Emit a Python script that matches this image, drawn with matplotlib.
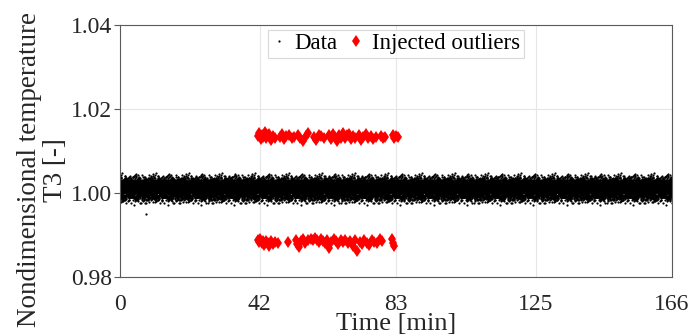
import numpy as np
import matplotlib.pyplot as plt

plt.rcParams['font.family'] = ['Liberation Serif', 'DejaVu Serif']

# measured signal: 0.5 s sampling over 166 min, level ~1.001
t_end = 166.0
n_samples = 19920
base_level = 1.001
# two noise sequences (units of 1e-4): broad scatter + fine jitter
noise_a = [3, -8, 12, -15, 6, 21, -4, 0, -19, 9, 14, -11, 2, 27, -7, -22, 5, 17, -1, -13,
           10, -26, 8, 19, -5, -16, 24, 1, -9, 13, -20, 7, 33, -3, -12, 16, -24, 4, 11, -6,
           -17, 22, -2, 15, -28, 9, 3, -14, 20, -10, 6, 25, -21, 0, 12, -8, 18, -31, 7, -4,
           14, -18, 2, 28, -11, -6, 23, -15, 9, 1, -25, 17, -3, 11, -19, 26, -7, 4, 13, -12,
           -1, 19, -23, 8, 15, -9, 0, 36, -16, 5, -27, 10, 21, -5, -13, 3, 16, -20, 12, -2,
           7, -10, 24, -29, 1, 18, -7, 13, -15, 6, 29, -22, -4, 10, -11, 20, 2, -18, 14, -8,
           -24, 9, 4, -13, 22, -6, 17, -1, -19, 11, 31, -26, 5, 8, -14, 15, -3, 26, -9, 0,
           12, -21, 19, -5, 3, -17, 23, -12, 7, 16, -30, 1, 10, -7, 25, -16, 6, -2, 18, -23,
           -10, 13, -4, 34, -20, 8, 2, -15, 21, -8, 14, -27, 9, -1, 17, -11, 4, 27, -18, 11,
           -6, 20, -14, 3, -33, 15, 7, -9, 24, -3, 0, -22, 12, 19, -12, 5, -17, 22, -5, 10,
           -25, 6, 16, -8, 28, -19, 1, 13, -2, -13, 18, -10, 9, 4, -21, 24, -15, 37, -7, 11,
           -3, 17, -20, 8, 2, -11, 14, -29, 21, -6, 10, -16, 5, 30, -9, 1, -18, 12, -4, 23]
noise_b = [4, -7, 11, -2, 6, -13, 0, 9, -5, 15, -10, 3, -1, 8, -16, 5, 12, -4, -9, 2,
           18, -6, 1, -12, 7, 10, -3, -20, 4, 13, -8, 0, 6, -14, 9, 22, -2, -7, 11, -5,
           3, -11, 14, -1, -17, 8, 5, -4, 30, -9, 2, 12, -13, 6, -3, 16, -7, 1, -24, 10,
           -6, 4, 9, -15, 0, 19, -2, -10, 7, 3, -8, 13, -5, 11, -1, -18, 6, 2, 14, -12,
           8, -3, -21, 5, 12, -7, 1, 17, -11, 4, -14, 0, 9, -6, 26, -4, 10, -9, 3, -16,
           7, 15, -2, -8, 11, -13, 5, 0, -19, 13, -5, 2, 8, -10, 20, -3, -34, 6, 12, -7,
           1, -12, 9, 4, -6, 16, -15, 3, 10, -1, -9, 23, -4, 7, -17, 2, 13, -8, 5, -11,
           -2, 18, -14, 6, 0, 11, -7, -22, 9, 3, 14, -5, -10, 1, 8, -13, 28, -3, 4, -16,
           12, -6, 2, 10, -20, 5, -1, 15, -9, 7, -12, 0, 19, -4, 6, -15, 3, 11, -8, 36,
           -5, 9, -11, 1, 13, -7, 4, -18, 8, -2, 16, -10, 2, -14, 10, -3, 21, -6, 5, -27]
# stray low sample near the start
stray_t = [7.9]
stray_v = [0.9950]

# injected outliers, upper group
up_t = [41.5, 41.9, 42.3, 42.7, 43.1, 43.5, 43.9, 44.4, 44.9, 45.4, 46.0, 46.7,
        48.2, 48.7, 49.3, 50.0, 50.8, 51.6, 52.4,
        53.5, 54.2, 55.0, 55.8, 56.6,
        58.2, 58.9, 59.7, 60.5, 61.4,
        62.8, 63.4, 64.0, 64.6, 65.2, 65.8, 66.4, 67.0, 67.6, 68.2, 68.8, 69.4, 70.1, 70.8,
        71.8, 72.5, 73.2, 74.0, 74.7, 75.4, 76.2, 77.0,
        78.4, 79.1, 79.8,
        82.0, 82.5, 83.0, 83.5]
up_v = [1.0136, 1.0142, 1.0129, 1.0138, 1.0133, 1.0145, 1.0131, 1.0137, 1.0140, 1.0127,
        1.0135, 1.0132,
        1.0134, 1.0141, 1.0128, 1.0136, 1.0139, 1.0130, 1.0134,
        1.0139, 1.0131, 1.0124, 1.0136, 1.0142,
        1.0133, 1.0127, 1.0138, 1.0135, 1.0130,
        1.0137, 1.0128, 1.0141, 1.0134, 1.0125, 1.0139, 1.0132, 1.0143, 1.0130, 1.0137,
        1.0141, 1.0129, 1.0135, 1.0131,
        1.0138, 1.0126, 1.0134, 1.0140, 1.0131, 1.0136, 1.0129, 1.0134,
        1.0136, 1.0130, 1.0134,
        1.0137, 1.0131, 1.0135, 1.0133]

# injected outliers, lower group
lo_t = [41.4, 41.8, 42.2, 42.6, 43.0, 43.4, 43.9, 44.4, 44.9, 45.4, 46.0, 46.7, 47.5,
        50.4,
        52.8, 53.3, 53.8, 54.4, 55.0, 55.7, 56.5,
        57.4, 58.0, 58.6, 59.2, 59.8, 60.4, 61.0, 61.7, 62.3, 62.9, 63.5, 64.2, 64.9, 65.6,
        66.4, 67.1, 67.8, 68.5, 69.2, 70.0, 70.7, 71.4, 72.1, 72.8,
        73.5, 74.2, 74.9, 75.7, 76.5, 77.3, 78.1, 78.9,
        81.9, 82.2, 82.5]
lo_v = [0.9889, 0.9884, 0.9891, 0.9880, 0.9886, 0.9877, 0.9885, 0.9881, 0.9873, 0.9886,
        0.9879, 0.9884, 0.9882,
        0.9883,
        0.9888, 0.9879, 0.9872, 0.9885, 0.9890, 0.9881, 0.9887,
        0.9891, 0.9887, 0.9893, 0.9888, 0.9884, 0.9890, 0.9886, 0.9880, 0.9889, 0.9868,
        0.9884, 0.9890, 0.9886, 0.9879,
        0.9887, 0.9883, 0.9889, 0.9881, 0.9885, 0.9874, 0.9888, 0.9863, 0.9884, 0.9878,
        0.9887, 0.9882, 0.9876, 0.9889, 0.9884, 0.9880, 0.9891, 0.9886,
        0.9890, 0.9881, 0.9873]

x_ticks = [0, 42, 83, 125, 166]
y_ticks = [0.98, 1.00, 1.02, 1.04]

t = np.linspace(0, t_end, n_samples)
v = (base_level + np.resize(np.array(noise_a) * 0.75e-4, n_samples)
     + np.resize(np.array(noise_b) * 0.6e-4, n_samples))

fig = plt.figure(figsize=(6.93, 3.35), dpi=100)
ax = fig.add_axes([0.1732, 0.1731, 0.7965, 0.7522])

ax.plot(t, v, '.', color='black', markersize=3.2, markeredgewidth=0, label='Data')
ax.plot(stray_t, stray_v, '.', color='black', markersize=3.2, markeredgewidth=0)
ax.plot(up_t, up_v, 'd', color='red', markersize=6, markeredgewidth=0,
        label='Injected outliers')
ax.plot(lo_t, lo_v, 'd', color='red', markersize=6, markeredgewidth=0)

ax.set_xlim(0, 166)
ax.set_ylim(0.98, 1.04)
ax.set_xticks(x_ticks)
ax.set_yticks(y_ticks)
ax.set_yticklabels(['%.2f' % y for y in y_ticks])
ax.grid(True, color='#e6e6e6', linewidth=0.8)
ax.set_axisbelow(True)
for s in ax.spines.values():
    s.set_color('#5a5a5a')
    s.set_linewidth(0.8)
ax.tick_params(axis='x', length=0, pad=12, labelsize=17, labelcolor='#262626')
ax.tick_params(axis='y', length=4, direction='out', pad=2, labelsize=17,
               labelcolor='#262626', color='#5a5a5a')

ax.set_xlabel('Time [min]', fontsize=19, labelpad=-1, color='#262626')
ax.set_ylabel('Nondimensional temperature\nT3 [-]', fontsize=19.5,
              color='#262626', linespacing=1.05)
ax.yaxis.set_label_coords(-0.094, 0.425)

leg = ax.legend(loc='upper center', ncol=2, fontsize=16.5, frameon=True, fancybox=False,
                handlelength=0.6, handletextpad=0.4, columnspacing=0.5,
                borderpad=0.15, borderaxespad=0.2, markerscale=1.0)
leg.get_frame().set_edgecolor('#d0d0d0')
leg.get_frame().set_linewidth(0.8)

fig.savefig('out.png', dpi=100)
